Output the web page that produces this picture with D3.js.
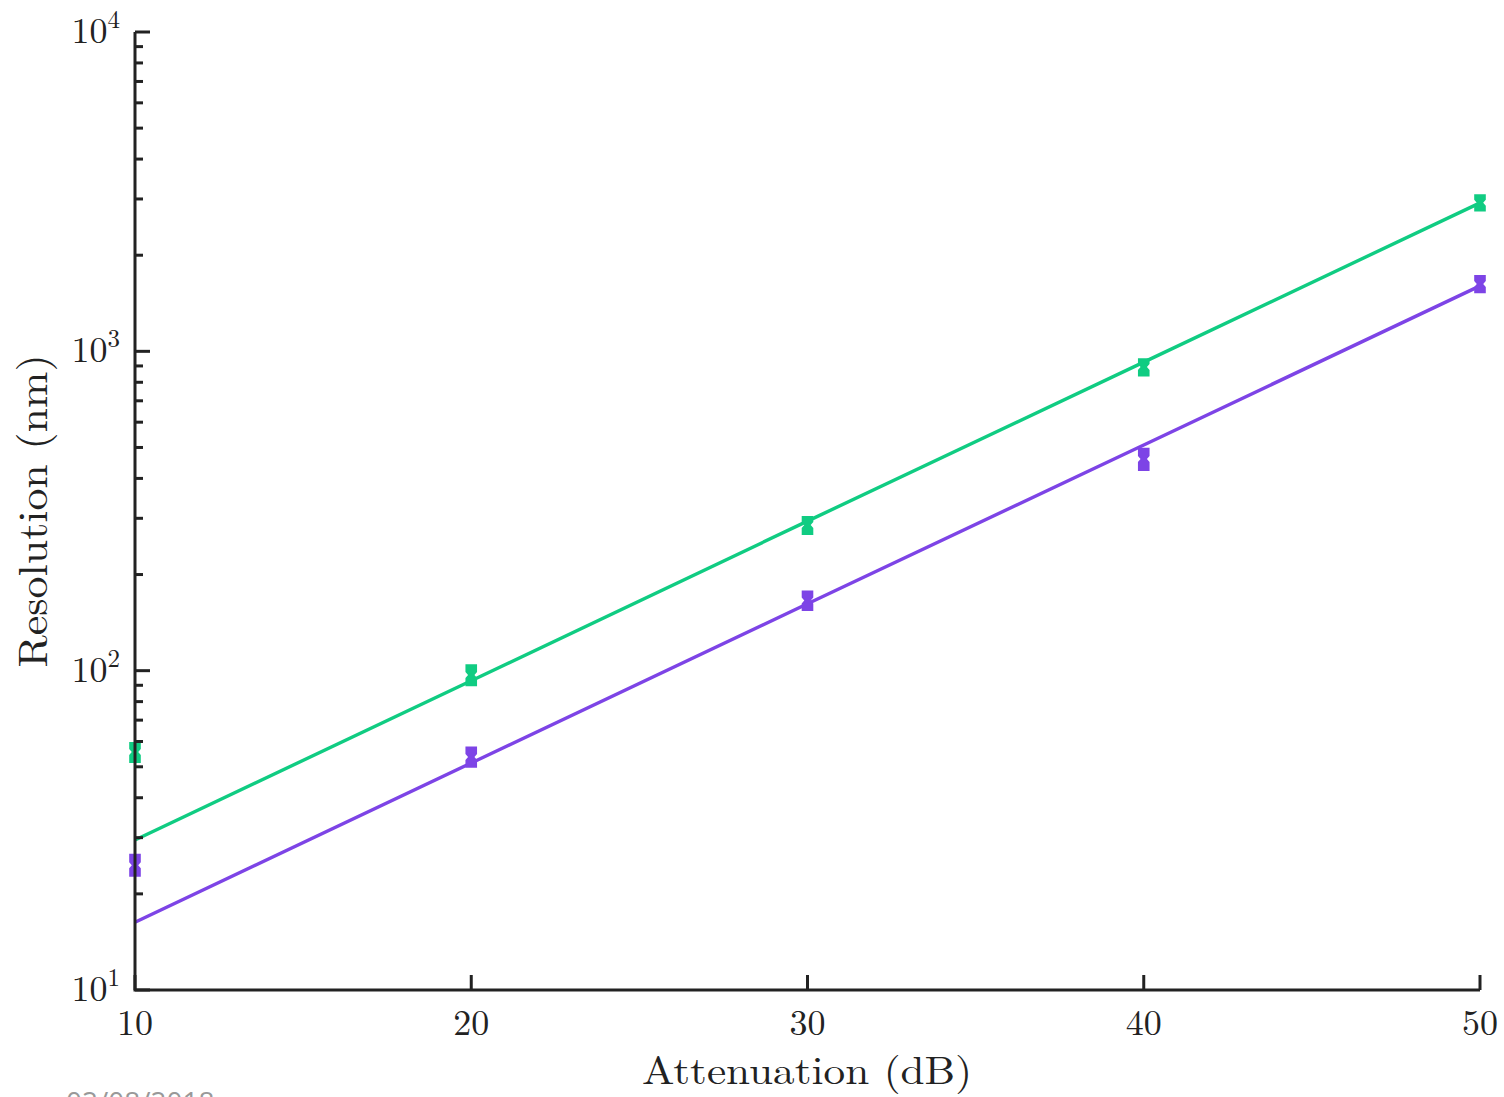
<!DOCTYPE html>
<html><head><meta charset="utf-8">
<script src="https://cdn.jsdelivr.net/npm/d3@7"></script>
<style>body{margin:0;background:#fff;} svg{display:block;}</style>
</head><body>
<script>
// ---- data ----
const attenuation = [10, 20, 30, 40, 50];
const greenVals = [55.6, 97, 286, 893, 2917];
const greenLow  = [51.8, 90, 268, 840, 2760];
const greenHigh = [59.4, 104, 303, 945, 3080];
const purpleVals = [24.6, 53.7, 166, 460, 1626];
const purpleLow  = [22.8, 50, 155, 425, 1530];
const purpleHigh = [26.5, 57.5, 177, 495, 1720];
const greenFit  = [29.5, 93.0, 294, 925, 2917];
const purpleFit = [16.3, 51.4, 162, 509, 1603];
const xTicks = [10, 20, 30, 40, 50];
const yTickExp = [1, 2, 3, 4];
const dateText = "02/08/2018";

const W = 1504, H = 1097;
const svg = d3.select("body").append("svg").attr("width", W).attr("height", H);
const x = d3.scaleLinear().domain([10, 50]).range([135, 1480]);
const y = d3.scaleLog().domain([10, 10000]).range([990, 32]);
const green = "#10cc82", purple = "#7d44e6", ink = "#222";
const serif = "'Latin Modern Roman','CMU Serif','DejaVu Serif',serif";

// fit lines
const line = d3.line().x((d, i) => x(attenuation[i])).y(d => y(d));
[[greenFit, green], [purpleFit, purple]].forEach(([f, c]) => {
  svg.append("path").attr("d", line(f)).attr("fill", "none").attr("stroke", c).attr("stroke-width", 3.4);
});

// error-bar markers (stacked caps with a small waist)
function marker(vals, lo, hi, c) {
  svg.append("g").selectAll("path").data(vals).join("path")
    .attr("fill", c)
    .attr("d", (v, i) => {
      const cx = x(attenuation[i]), yt = y(hi[i]) - 1, yb = y(lo[i]) + 1, ym = y(v);
      const w = 5.8, n = 3.2, g = 3;
      return `M${cx - w},${yt}L${cx + w},${yt}L${cx + w},${ym - g}L${cx + n},${ym}L${cx + w},${ym + g}L${cx + w},${yb}L${cx - w},${yb}L${cx - w},${ym + g}L${cx - n},${ym}L${cx - w},${ym - g}Z`;
    });
}
marker(greenVals, greenLow, greenHigh, green);
marker(purpleVals, purpleLow, purpleHigh, purple);

// axes
const ax = svg.append("g").attr("stroke", ink).attr("stroke-width", 3).attr("fill", "none");
ax.append("path").attr("d", `M${x(10)},${y(10000)}V${y(10)}H${x(50)}`);
// y ticks
const minor = [];
for (let e = 1; e < 4; e++) for (let m = 2; m <= 9; m++) minor.push(m * Math.pow(10, e));
ax.selectAll(".mn").data(minor).join("line").attr("x1", x(10)).attr("x2", x(10) + 8)
  .attr("y1", d => y(d)).attr("y2", d => y(d));
ax.selectAll(".mj").data(yTickExp).join("line").attr("x1", x(10)).attr("x2", x(10) + 15)
  .attr("y1", d => y(Math.pow(10, d))).attr("y2", d => y(Math.pow(10, d)));
ax.selectAll(".xt").data(xTicks).join("line").attr("x1", d => x(d)).attr("x2", d => x(d))
  .attr("y1", y(10)).attr("y2", y(10) - 15);

// y tick labels
yTickExp.forEach(e => {
  const t = svg.append("text").attr("x", 120).attr("y", y(Math.pow(10, e)) + 11)
    .attr("text-anchor", "end").attr("font-family", serif).attr("font-size", 36).attr("fill", ink);
  t.append("tspan").text("10");
  t.append("tspan").attr("dy", -15).attr("font-size", 25).text(e);
});
// x tick labels
svg.selectAll(".xl").data(xTicks).join("text").attr("x", d => x(d)).attr("y", 1035)
  .attr("text-anchor", "middle").attr("font-family", serif).attr("font-size", 36).attr("fill", ink).text(d => d);

// axis titles
svg.append("text").attr("x", 807).attr("y", 1084).attr("text-anchor", "middle")
  .attr("font-family", serif).attr("font-size", 39).attr("fill", ink)
  .attr("textLength", 330).attr("lengthAdjust", "spacingAndGlyphs").text("Attenuation (dB)");
svg.append("text").attr("transform", "translate(47,511) rotate(-90)").attr("text-anchor", "middle")
  .attr("font-family", serif).attr("font-size", 41).attr("fill", ink)
  .attr("textLength", 313).attr("lengthAdjust", "spacingAndGlyphs").text("Resolution (nm)");

// clipped date footer
svg.append("text").attr("x", 66).attr("y", 1112).attr("font-family", "'Open Sans',sans-serif")
  .attr("font-size", 28).attr("fill", "#999").text(dateText);
</script>
</body></html>
